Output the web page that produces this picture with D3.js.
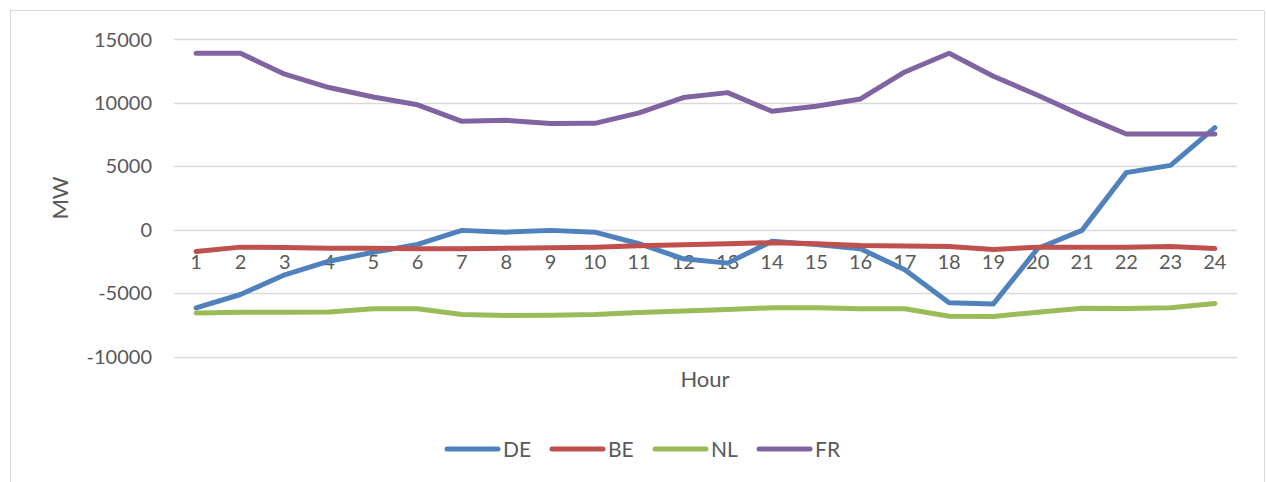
<!DOCTYPE html>
<meta charset="utf-8">
<html>
  <head>
    <script src="https://cdn.jsdelivr.net/npm/d3@7"></script>
    <style>
      body { margin: 0; background: #fff; }
      text { font-family: Lato, "Open Sans", sans-serif; fill: #595959; }
    </style>
  </head>
  <body>
    <div id="chart"></div>

    <script type="text/javascript">
      var hours = d3.range(1, 25);
      var seriesNames = ["DE", "BE", "NL", "FR"];
      var colors = ["#4F81BD", "#C0504D", "#9BBB59", "#8064A2"];
      var yTicks = [15000, 10000, 5000, 0, -5000, -10000];

      var de = [-6150, -5100, -3550, -2480, -1770, -1160, -50, -190, -50, -190, -1100, -2290,
                -2630, -900, -1160, -1500, -3150, -5760, -5840, -1480, -50, 4500, 5070, 8040];
      var be = [-1710, -1370, -1400, -1450, -1450, -1500, -1500, -1450, -1420, -1370, -1260, -1180,
                -1100, -1020, -1100, -1240, -1290, -1320, -1550, -1370, -1370, -1370, -1320, -1480];
      var nl = [-6550, -6500, -6500, -6470, -6230, -6230, -6680, -6760, -6730, -6680, -6520, -6410,
                -6280, -6150, -6150, -6230, -6230, -6810, -6830, -6490, -6180, -6200, -6150, -5810];
      var fr = [13900, 13900, 12250, 11200, 10460, 9840, 8540, 8620, 8360, 8380, 9200, 10410,
                10800, 9330, 9720, 10300, 12430, 13900, 12090, 10590, 9010, 7540, 7540, 7540];
      var values = [de, be, nl, fr];

      var width = 1266, height = 482,
          plot = { left: 174, right: 1237, top: 39.3, bottom: 356.7 };

      var svg = d3.select("#chart").append("svg")
          .attr("width", width)
          .attr("height", height);

      // chart frame
      svg.append("rect")
          .attr("x", 10.5).attr("y", 10.5)
          .attr("width", 1254).attr("height", 490)
          .style("fill", "none")
          .style("stroke", "#d9d9d9")
          .style("stroke-width", 1);

      var x = d3.scaleBand().domain(hours).range([plot.left, plot.right]);
      var y = d3.scaleLinear().domain([-10000, 15000]).range([plot.bottom, plot.top]);

      // gridlines
      svg.append("g").selectAll("line")
          .data(yTicks)
          .enter().append("line")
            .attr("x1", plot.left).attr("x2", plot.right)
            .attr("y1", function(d) { return Math.round(y(d)) + 0.5; })
            .attr("y2", function(d) { return Math.round(y(d)) + 0.5; })
            .style("stroke", "#d9d9d9")
            .style("stroke-width", 1.5);

      // y axis labels
      svg.append("g").selectAll("text")
          .data(yTicks)
          .enter().append("text")
            .text(function(d) { return d; })
            .attr("x", 152)
            .attr("y", function(d) { return y(d); })
            .attr("dy", "0.36em")
            .style("text-anchor", "end")
            .style("font-size", "20px");

      // x axis labels (axis crosses at 0)
      svg.append("g").selectAll("text")
          .data(hours)
          .enter().append("text")
            .text(function(d) { return d; })
            .attr("x", function(d) { return x(d) + x.bandwidth() / 2; })
            .attr("y", y(0) + 39)
            .style("text-anchor", "middle")
            .style("font-size", "20px");

      // axis titles
      svg.append("text")
          .text("MW")
          .attr("transform", "translate(68,198) rotate(-90)")
          .style("text-anchor", "middle")
          .style("font-size", "22px");

      svg.append("text")
          .text("Hour")
          .attr("x", 705).attr("y", 387)
          .style("text-anchor", "middle")
          .style("font-size", "22px");

      // lines
      var line = d3.line()
          .x(function(d, i) { return x(hours[i]) + x.bandwidth() / 2; })
          .y(function(d) { return y(d); });

      svg.append("g").selectAll("path")
          .data(values)
          .enter().append("path")
            .attr("d", line)
            .style("fill", "none")
            .style("stroke", function(d, i) { return colors[i]; })
            .style("stroke-width", 5)
            .style("stroke-linecap", "round")
            .style("stroke-linejoin", "round");

      // legend
      var legendX = [445, 550, 653, 757];
      var legend = svg.append("g").selectAll("g")
          .data(seriesNames)
          .enter().append("g")
            .attr("transform", function(d, i) { return "translate(" + legendX[i] + ",449)"; });

      legend.append("line")
          .attr("x1", 2).attr("x2", 53)
          .attr("y1", 0).attr("y2", 0)
          .style("stroke", function(d, i) { return colors[i]; })
          .style("stroke-width", 5)
          .style("stroke-linecap", "round");

      legend.append("text")
          .text(function(d) { return d; })
          .attr("x", 58)
          .attr("y", 0)
          .attr("dy", "0.36em")
          .style("font-size", "21px");
    </script>
  </body>
</html>
